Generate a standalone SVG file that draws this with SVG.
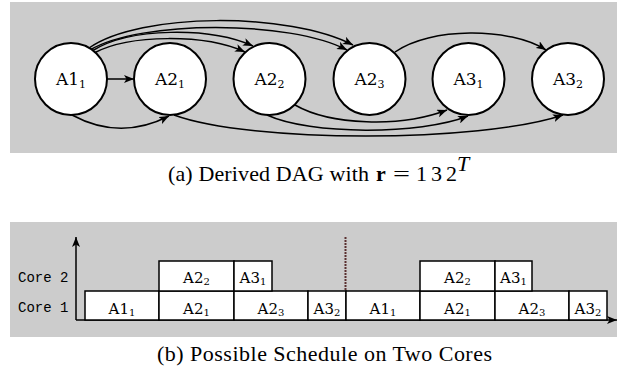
<svg xmlns="http://www.w3.org/2000/svg" width="618" height="376" viewBox="0 0 618 376">
  <style>
    .panel { fill: #cccccc; }
    .node circle { fill: #ffffff; stroke: #000000; stroke-width: 2; }
    .node text { font-size: 17px; fill: #000; text-anchor: middle; }
    .node tspan { font-size: 11px; }
    .edge { fill: none; stroke: #000; stroke-width: 1.5; marker-end: url(#arrow); }
    .slot rect { fill: #ffffff; stroke: #000; stroke-width: 1.5; }
    .slot text { font-size: 15px; fill: #000; text-anchor: middle; }
    .slot tspan { font-size: 10px; }
    .core { font-size: 14px; fill: #000; }
    .axis { fill: none; stroke: #000; stroke-width: 1.5; marker-end: url(#arrow); }
    .cap { font-size: 22px; fill: #000; }
  </style>
  <defs>
    <marker id="arrow" markerUnits="userSpaceOnUse" markerWidth="11" markerHeight="8" refX="10" refY="4" orient="auto">
      <path d="M0,0 L10,4 L0,8 L2.5,4 z" fill="#000"/>
    </marker>
  </defs>

  <!-- derived DAG -->
  <rect class="panel" x="10" y="2" width="607" height="151"/>

  <g id="connectors">
    <path class="edge" d="M107,79 L134,79"/>
    <path class="edge" d="M72,115 Q120,141 169,116"/>
    <path class="edge" d="M89,48 C140,12 290,12 353,45"/>
    <path class="edge" d="M90,50 C140,20 290,20 347,50"/>
    <path class="edge" d="M92,51 C130,27 210,27 253,46"/>
    <path class="edge" d="M94,53 C130,34 205,34 245,52"/>
    <path class="edge" d="M395,52 C430,27 510,27 546,50"/>
    <path class="edge" d="M174,115 C250,143 480,143 563,115"/>
    <path class="edge" d="M295,105 C330,125 400,128 447,110"/>
    <path class="edge" d="M267,115 C310,135 420,135 468,116"/>
  </g>

  <g font-family="DejaVu Serif, serif">
    <g id="A1_1" class="node"><circle cx="71" cy="79" r="36"/><text x="71" y="85">A1<tspan dy="3">1</tspan></text></g>
    <g id="A2_1" class="node"><circle cx="170" cy="79" r="36"/><text x="170" y="85">A2<tspan dy="3">1</tspan></text></g>
    <g id="A2_2" class="node"><circle cx="269.5" cy="79" r="36"/><text x="269.5" y="85">A2<tspan dy="3">2</tspan></text></g>
    <g id="A2_3" class="node"><circle cx="369.5" cy="79" r="36"/><text x="369.5" y="85">A2<tspan dy="3">3</tspan></text></g>
    <g id="A3_1" class="node"><circle cx="468.5" cy="79" r="36"/><text x="468.5" y="85">A3<tspan dy="3">1</tspan></text></g>
    <g id="A3_2" class="node"><circle cx="568" cy="79" r="36"/><text x="568" y="85">A3<tspan dy="3">2</tspan></text></g>
  </g>

  <g font-family="Liberation Serif, Times New Roman, serif">
    <text class="cap" x="168" y="181" textLength="201" lengthAdjust="spacing">(a) Derived DAG with</text>
    <text class="cap" x="376" y="181" font-weight="bold">r</text>
    <text class="cap" x="393" y="181" textLength="17" lengthAdjust="spacingAndGlyphs">=</text>
    <text class="cap" x="416" y="181" font-size="20">1</text>
    <text class="cap" x="431" y="181" font-size="20">3</text>
    <text class="cap" x="446" y="181" font-size="20">2</text>
    <text class="cap" x="457" y="171" font-size="15" font-style="italic">T</text>
  </g>

  <!-- two-core schedule -->
  <rect class="panel" x="10" y="222" width="607" height="115"/>

  <g id="axes">
    <path class="axis" d="M76,320 L76,237"/>
    <path class="axis" d="M76,320 L617,320"/>
    <line x1="345.5" y1="237" x2="345.5" y2="291" stroke="#5a3030" stroke-width="2" stroke-dasharray="2 1"/>
  </g>

  <g font-family="Liberation Mono, monospace">
    <text class="core" x="18" y="282">Core 2</text>
    <text class="core" x="18" y="312">Core 1</text>
  </g>

  <g font-family="DejaVu Serif, serif">
    <g id="core1" class="slot">
      <rect x="85" y="291" width="74" height="29"/><text x="122" y="314">A1<tspan dy="2">1</tspan></text>
      <rect x="159" y="291" width="75" height="29"/><text x="196.5" y="314">A2<tspan dy="2">1</tspan></text>
      <rect x="234" y="291" width="74" height="29"/><text x="271" y="314">A2<tspan dy="2">3</tspan></text>
      <rect x="308" y="291" width="38" height="29"/><text x="327" y="314">A3<tspan dy="2">2</tspan></text>
      <rect x="346" y="291" width="74" height="29"/><text x="383" y="314">A1<tspan dy="2">1</tspan></text>
      <rect x="420" y="291" width="75" height="29"/><text x="457.5" y="314">A2<tspan dy="2">1</tspan></text>
      <rect x="495" y="291" width="74" height="29"/><text x="532" y="314">A2<tspan dy="2">3</tspan></text>
      <rect x="569" y="291" width="38" height="29"/><text x="588" y="314">A3<tspan dy="2">2</tspan></text>
    </g>
    <g id="core2" class="slot">
      <rect x="159" y="261" width="75" height="30"/><text x="196.5" y="283">A2<tspan dy="2">2</tspan></text>
      <rect x="234" y="261" width="38" height="30"/><text x="253" y="283">A3<tspan dy="2">1</tspan></text>
      <rect x="420" y="261" width="75" height="30"/><text x="457.5" y="283">A2<tspan dy="2">2</tspan></text>
      <rect x="495" y="261" width="37" height="30"/><text x="513.5" y="283">A3<tspan dy="2">1</tspan></text>
    </g>
  </g>

  <text class="cap" x="157" y="361" font-family="Liberation Serif, Times New Roman, serif" textLength="335" lengthAdjust="spacing">(b) Possible Schedule on Two Cores</text>
</svg>
